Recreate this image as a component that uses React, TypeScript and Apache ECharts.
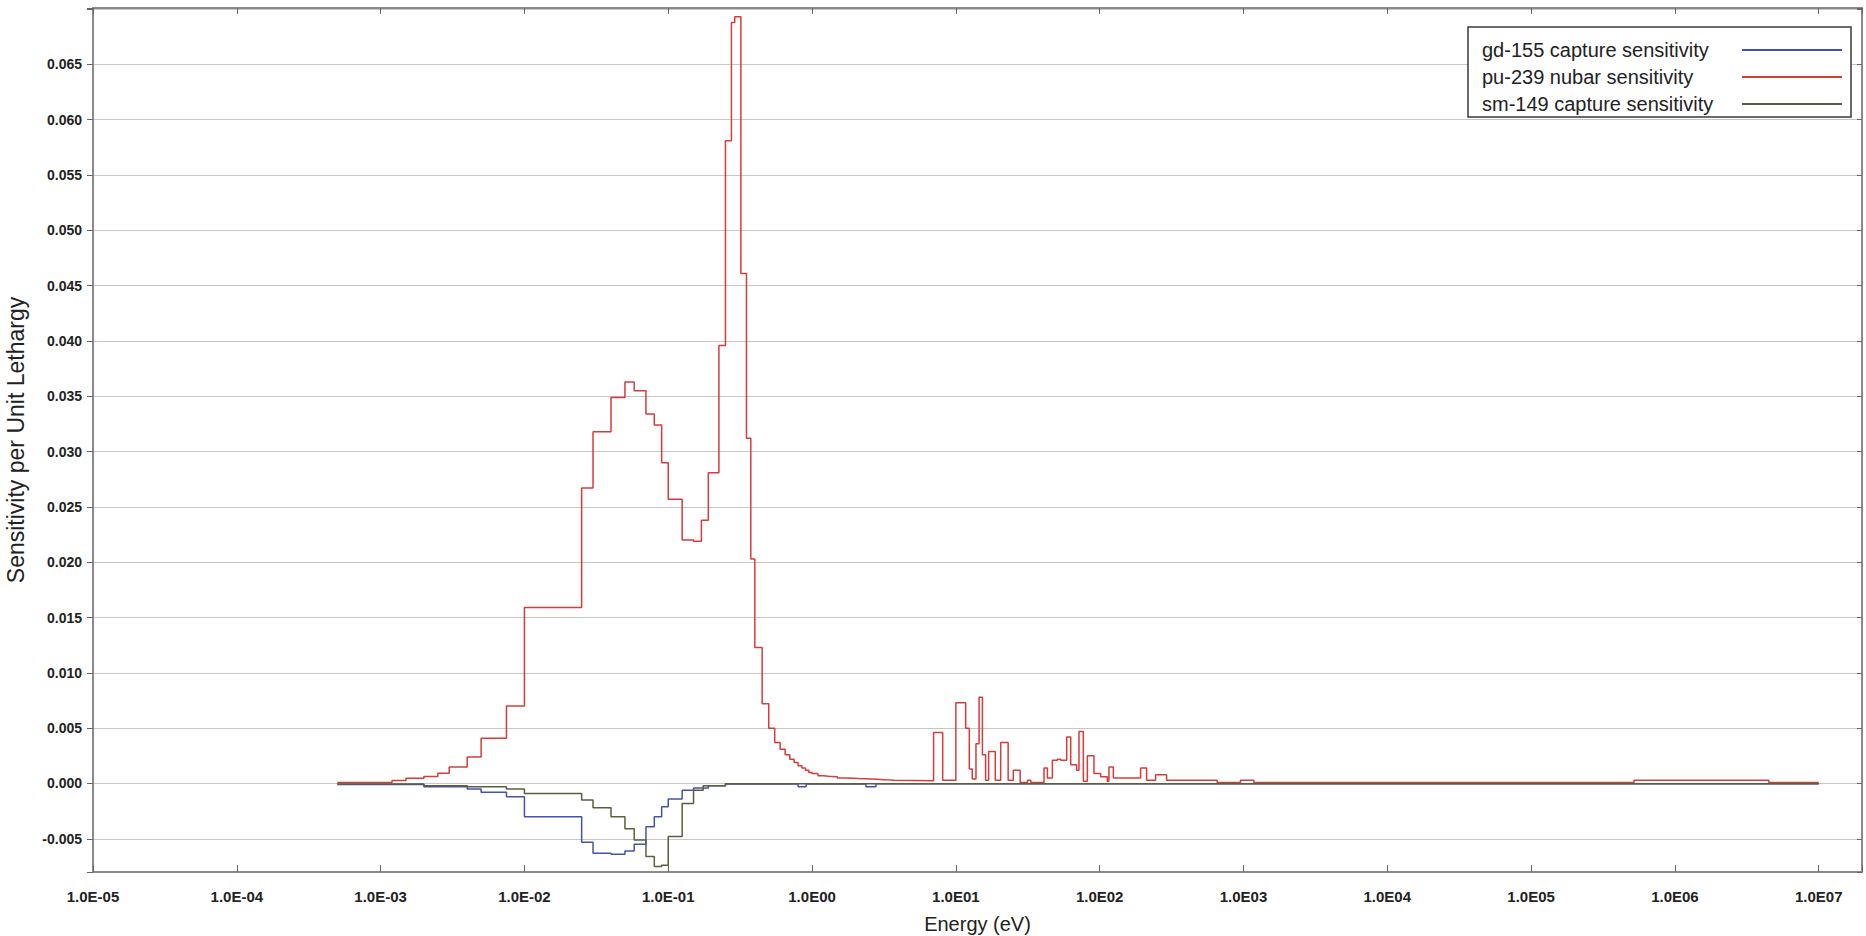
import React, { useEffect, useRef } from 'react';
import * as echarts from 'echarts';

const FONT = "'Liberation Sans', Arial, Helvetica, sans-serif";

// Axis ranges
const energyMin = 1e-5;
const energyMax = 2e7;
const yMin = -0.008;
const yMax = 0.0701;
const yTickStep = 0.005;
const yLabelTop = 0.065;

const seriesNames = [
  'gd-155 capture sensitivity',
  'pu-239 nubar sensitivity',
  'sm-149 capture sensitivity',
];
const seriesColors = ['#4652a8', '#d63c3c', '#5a603e'];

// gd-155 capture sensitivity: group edges (eV) and per-unit-lethargy values
const gd155Edges = [
  5e-4, 2e-3, 4e-3, 5e-3, 7.5e-3, 1e-2, 0.025, 0.03, 0.04, 0.05, 0.058, 0.07, 0.08,
  0.09, 0.1, 0.125, 0.15, 0.19, 0.25, 0.8, 0.91, 2.37, 2.78, 1e7,
];
const gd155Values = [
  -0.0001, -0.0003, -0.0005, -0.0008, -0.0012, -0.003, -0.0053, -0.0063, -0.0064,
  -0.0061, -0.0055, -0.0039, -0.003, -0.0021, -0.0014, -0.0006, -0.0004, -0.0002,
  -0.00005, -0.0003, -0.00005, -0.0003, -0.00002,
];

// pu-239 nubar sensitivity
const pu239Edges = [
  5e-4, 1.2e-3, 1.5e-3, 2e-3, 2.5e-3, 3e-3, 4e-3, 5e-3, 7.5e-3, 1e-2, 0.025, 0.03,
  0.04, 0.05, 0.058, 0.07, 0.08, 0.09, 0.1, 0.125, 0.15, 0.17, 0.19, 0.225, 0.25,
  0.275, 0.29, 0.32, 0.35, 0.375, 0.4, 0.45, 0.5, 0.55, 0.6, 0.65, 0.7, 0.75, 0.8,
  0.85, 0.9, 0.95, 1.0, 1.1, 1.2, 1.3, 1.5, 1.77, 2.1, 2.6, 3.2, 3.73, 7.0, 8.1,
  10.0, 11.7, 12.4, 13.0, 13.8, 14.5, 15.3, 16.1, 16.9, 18.8, 20.5, 23.1, 25.1,
  28.0, 31.5, 33.2, 41.0, 43.3, 46.9, 50.8, 53.6, 59.0, 62.9, 69.2, 71.8, 77.0,
  82.1, 91.3, 101.6, 113, 116, 124.5, 192.6, 212, 245, 292, 656, 953, 1180, 5.2e5,
  4.5e6, 1e7,
];
const pu239Values = [
  0.0001, 0.00027, 0.00048, 0.00063, 0.00093, 0.0015, 0.0024, 0.0041, 0.007, 0.0159,
  0.0267, 0.0318, 0.0349, 0.0363, 0.0355, 0.0334, 0.0324, 0.029, 0.0257, 0.022,
  0.0219, 0.0238, 0.0281, 0.0396, 0.0581, 0.0688, 0.0693, 0.0461, 0.0312, 0.0203,
  0.0123, 0.0072, 0.005, 0.0037, 0.0031, 0.0026, 0.0022, 0.0019, 0.0016, 0.0014,
  0.0012, 0.001, 0.0009, 0.0007, 0.00065, 0.0006, 0.0005, 0.00045, 0.0004, 0.00035,
  0.0003, 0.00025, 0.0046, 0.0003, 0.0073, 0.005, 0.0013, 0.0004, 0.0036, 0.0078,
  0.0026, 0.0003, 0.0029, 0.0003, 0.0037, 0.0003, 0.0012, 0.0001, 0.0003, 0.0001,
  0.0014, 0.0005, 0.0021, 0.0022, 0.0021, 0.0042, 0.0017, 0.0012, 0.0047, 0.0002,
  0.0025, 0.0009, 0.0006, 0.0002, 0.0015, 0.0005, 0.0014, 0.0003, 0.0008, 0.0003,
  0.0001, 0.0003, 0.0001, 0.0003, 0.0001,
];

// sm-149 capture sensitivity
const sm149Edges = [
  5e-4, 2e-3, 4e-3, 7.5e-3, 1e-2, 0.025, 0.03, 0.04, 0.05, 0.058, 0.07, 0.08, 0.09,
  0.1, 0.125, 0.15, 0.175, 0.25, 1e7,
];
const sm149Values = [
  -0.00005, -0.0002, -0.0003, -0.0005, -0.0009, -0.0015, -0.0022, -0.003, -0.0041,
  -0.0051, -0.0066, -0.0075, -0.0074, -0.0048, -0.0018, -0.0006, -0.0002, -0.00003,
];

function histogram(edges: number[], values: number[]): number[][] {
  const pts: number[][] = [];
  for (let i = 0; i < values.length; i++) {
    pts.push([Math.log10(edges[i]), values[i]]);
  }
  pts.push([Math.log10(edges[values.length]), values[values.length - 1]]);
  return pts;
}

function xLabel(v: number): string {
  const r = Math.round(v);
  if (Math.abs(v - r) > 1e-6) return '';
  const a = Math.abs(r);
  return '1.0E' + (r < 0 ? '-' : '') + (a < 10 ? '0' + a : String(a));
}

function yLabel(v: number): string {
  const k = v / yTickStep;
  if (Math.abs(k - Math.round(k)) > 1e-6) return '';
  const val = Math.round(k) * yTickStep;
  if (val > yLabelTop + 1e-9) return '';
  return (Math.abs(val) < 1e-12 ? 0 : val).toFixed(3);
}

export default function App() {
  const ref = useRef<HTMLDivElement>(null);

  useEffect(() => {
    if (!ref.current) return;
    const chart = echarts.init(ref.current, null, { renderer: 'svg' });

    const xMinLog = Math.log10(energyMin);
    const xMaxLog = Math.log10(energyMax);
    const axisLineColor = '#8a8a8a';

    const dataSets = [
      histogram(gd155Edges, gd155Values),
      histogram(pu239Edges, pu239Values),
      histogram(sm149Edges, sm149Values),
    ];

    chart.setOption({
      animation: false,
      backgroundColor: '#ffffff',
      textStyle: { fontFamily: FONT },
      grid: {
        left: 93,
        right: 4,
        top: 8,
        bottom: 64,
        containLabel: false,
        outerBoundsMode: 'none',
      },
      legend: {
        orient: 'vertical',
        left: 1468,
        top: 27,
        align: 'right',
        icon: 'rect',
        itemWidth: 100,
        itemHeight: 2,
        itemGap: 7,
        padding: [13, 9, 3, 14],
        borderColor: '#3a3a3a',
        borderWidth: 1.5,
        backgroundColor: '#ffffff',
        selectedMode: false,
        data: seriesNames,
        formatter: (name: string) => '{n|' + name + '}',
        textStyle: {
          fontFamily: FONT,
          fontSize: 20,
          color: '#222',
          rich: {
            n: {
              width: 255,
              align: 'left',
              fontSize: 20,
              lineHeight: 20,
              fontFamily: FONT,
              color: '#222',
            },
          },
        },
      },
      xAxis: [
        {
          type: 'value',
          position: 'bottom',
          min: xMinLog,
          max: xMaxLog,
          interval: 1,
          name: 'Energy (eV)',
          nameLocation: 'middle',
          nameGap: 42,
          nameMoveOverlap: false,
          nameTextStyle: { fontFamily: FONT, fontSize: 20, color: '#222' },
          axisLine: { show: true, onZero: false, lineStyle: { color: axisLineColor, width: 2 } },
          axisTick: { show: true, inside: true, length: 7, lineStyle: { color: '#666' } },
          axisLabel: {
            show: true,
            margin: 17,
            fontFamily: FONT,
            fontSize: 15,
            fontWeight: 'bold',
            color: '#222',
            formatter: xLabel,
            showMinLabel: true,
            showMaxLabel: true,
          },
          splitLine: { show: false },
        },
        {
          type: 'value',
          position: 'top',
          min: xMinLog,
          max: xMaxLog,
          interval: 1,
          axisLine: { show: true, onZero: false, lineStyle: { color: axisLineColor, width: 2 } },
          axisTick: { show: true, inside: true, length: 6, lineStyle: { color: '#666' } },
          axisLabel: { show: false },
          splitLine: { show: false },
        },
      ],
      yAxis: [
        {
          type: 'value',
          position: 'left',
          min: yMin,
          max: yMax,
          splitNumber: 16,
          name: 'Sensitivity per Unit Lethargy',
          nameLocation: 'middle',
          nameGap: 66,
          nameMoveOverlap: false,
          nameTextStyle: { fontFamily: FONT, fontSize: 23, color: '#222' },
          axisLine: { show: true, onZero: false, lineStyle: { color: axisLineColor, width: 2 } },
          axisTick: { show: true, inside: false, length: 6, lineStyle: { color: '#666' } },
          axisLabel: {
            show: true,
            margin: 11,
            fontFamily: FONT,
            fontSize: 14,
            fontWeight: 'bold',
            color: '#222',
            formatter: yLabel,
          },
          splitLine: { show: true, lineStyle: { color: '#c6c6c6', width: 1 } },
        },
        {
          type: 'value',
          position: 'right',
          min: yMin,
          max: yMax,
          splitNumber: 16,
          axisLine: { show: true, onZero: false, lineStyle: { color: axisLineColor, width: 2 } },
          axisTick: { show: true, inside: true, length: 5, lineStyle: { color: '#666' } },
          axisLabel: { show: false },
          splitLine: { show: false },
        },
      ],
      series: seriesNames.map((name, i) => ({
        name,
        type: 'line',
        step: 'end',
        xAxisIndex: 0,
        yAxisIndex: 0,
        symbol: 'none',
        showSymbol: false,
        clip: true,
        color: seriesColors[i],
        itemStyle: { color: seriesColors[i] },
        lineStyle: { color: seriesColors[i], width: 1.5 },
        emphasis: { disabled: true },
        data: dataSets[i],
      })),
    });

    return () => {
      chart.dispose();
    };
  }, []);

  return (
    <div
      ref={ref}
      style={{ position: 'absolute', left: 0, top: 0, width: 1866, height: 936 }}
    />
  );
}
